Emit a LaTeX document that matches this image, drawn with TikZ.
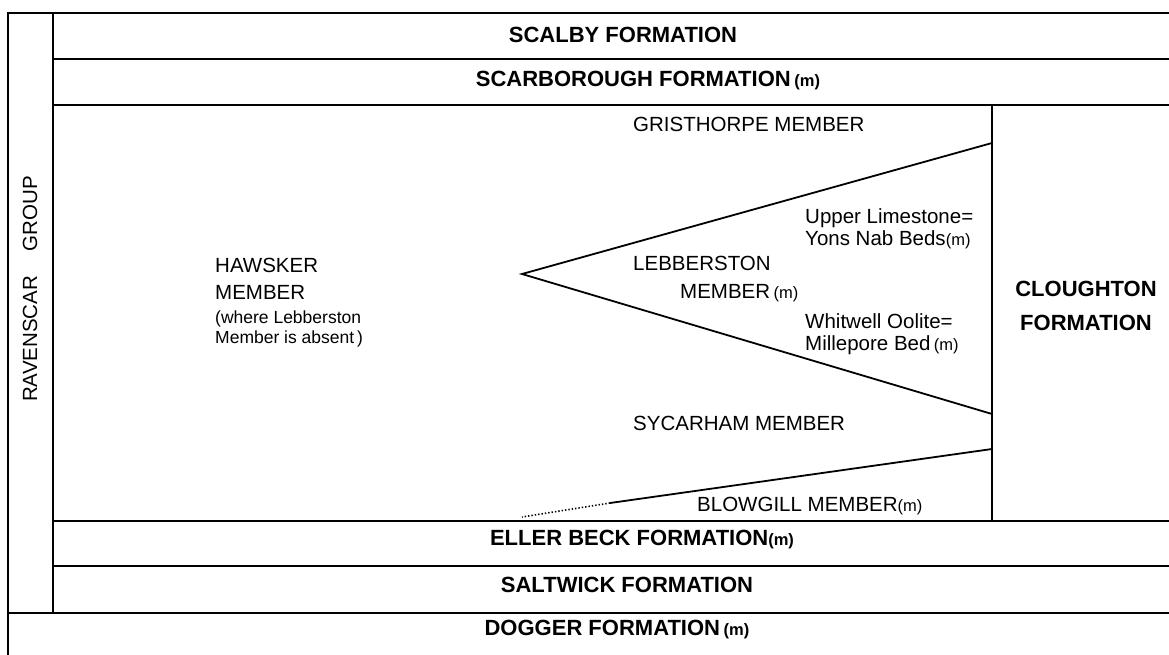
\documentclass[tikz,border=0pt]{standalone}
\usepackage{fontspec}
\setmainfont{Liberation Sans}
\usepackage{tikz}
\usetikzlibrary{positioning}

\newcommand{\mflag}{{\fontsize{16.5}{16.5}\selectfont(m)}}

\begin{document}
\begin{tikzpicture}[x=1pt, y=-1pt,
        rule/.style={line width=2.4pt},
        bed/.style={line width=1.8pt},
        fmn/.style={inner sep=0pt, font=\bfseries\fontsize{22}{33.5}\selectfont, align=center},
        mbr/.style={inner sep=0pt, font=\fontsize{20.5}{22}\selectfont, align=left},
        note/.style={inner sep=0pt, font=\fontsize{17.5}{20}\selectfont, align=left}]
        \useasboundingbox (0,0) rectangle (1169,655);

        % frame and bed boundaries
        \draw[rule] (8,655) -- (8,13) -- (1169,13);
        \draw[rule] (53,13) -- (53,613);
        \foreach \y in {59,105,521,566}
            \draw[rule] (53,\y) -- (1169,\y);
        \draw[rule] (8,613) -- (1169,613);
        \draw[bed] (992,105) -- (992,521);

        % Lebberston wedge and Blowgill base
        \draw[bed, line join=miter] (992,143) -- (522,274) -- (992,414);
        \draw[bed] (992,449) -- (610,503);
        \draw[line width=1.6pt, dash pattern=on 1.4pt off 2pt] (610,503) -- (522,517);

        \node[mbr, rotate=90] (ravenscar) at (30,289) {RAVENSCAR\hspace{1.2em}GROUP};

        \node[fmn] (scalby) at (623,35) {SCALBY FORMATION};
        \node[fmn] (scarborough) at (648,81) {SCARBOROUGH FORMATION\,\mflag};
        \node[fmn] (ellerbeck) at (642,540) {ELLER BECK FORMATION\mflag};
        \node[fmn] (saltwick) at (627,585) {SALTWICK FORMATION};
        \node[fmn] (dogger) at (617,630) {DOGGER FORMATION\,\mflag};
        \node[fmn] (cloughton) at (1086,306) {CLOUGHTON\\FORMATION};

        \node[mbr, anchor=north west] (gristhorpe) at (633,117) {GRISTHORPE MEMBER};
        \node[mbr, anchor=north west] (upperlst) at (805,208) {Upper Limestone=\\Yons Nab Beds\mflag};
        \node[mbr, anchor=north west] (lebberston) at (633,256) {LEBBERSTON};
        \node[mbr, anchor=north west] (lebmember) at (680,284) {MEMBER\,\mflag};
        \node[mbr, anchor=north west] (whitwell) at (805,313) {Whitwell Oolite=\\Millepore Bed\,\mflag};
        \node[mbr, anchor=north west] (sycarham) at (633,416) {SYCARHAM MEMBER};
        \node[mbr, anchor=north west] (blowgill) at (697,497) {BLOWGILL MEMBER\mflag};

        \node[mbr, anchor=north west, font=\fontsize{20.5}{27}\selectfont] (hawsker) at (215,258) {HAWSKER\\MEMBER};
        \node[note, below=11pt of hawsker.south west, anchor=north west] (hawskernote) {(where Lebberston\\Member is absent\,)};
    \end{tikzpicture}
\end{document}
